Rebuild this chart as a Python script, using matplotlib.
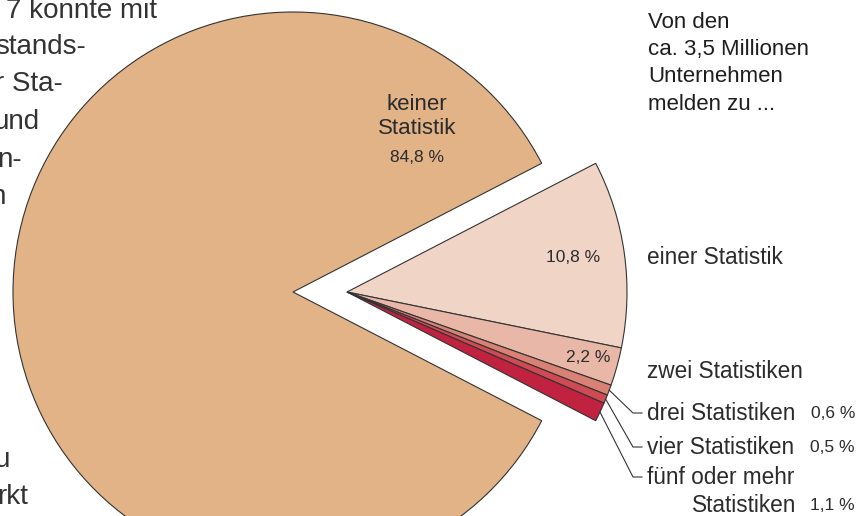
import numpy as np
import matplotlib
matplotlib.use("Agg")
import matplotlib.pyplot as plt

# share of companies by number of statistics they report to (percent)
categories = ["keiner Statistik", "einer Statistik", "zwei Statistiken",
              "drei Statistiken", "vier Statistiken", "fünf oder mehr Statistiken"]
shares = [84.8, 10.8, 2.2, 0.6, 0.5, 1.1]
share_labels = ["84,8 %", "10,8 %", "2,2 %", "0,6 %", "0,5 %", "1,1 %"]
colors = ["#E2B387", "#F0D4C6", "#E8B7A7", "#D98174", "#CF4A52", "#C0223F"]

intro_lines = ["Von den", "ca. 3,5 Millionen", "Unternehmen", "melden zu ..."]
# fragments of the body text that is cut off at the left edge
body_fragments = [("7 konnte mit", 157, 11), ("stands-", 86, 47), ("r Sta-", 63, 84),
                  ("und", 39, 122), ("n-", 22, 160), ("h", 5, 197),
                  ("u", 10, 460), ("rkt", 28, 497)]

plt.rcParams['font.family'] = ['Liberation Sans', 'DejaVu Sans']
TXT = '#2b2b2b'

fig = plt.figure(figsize=(8.58, 5.16), dpi=100)
ax = fig.add_axes([0, 0, 1, 1])

# body text sits behind the pie
for s, xr, yc in body_fragments:
    ax.text(xr, yc, s, ha='right', va='center', fontsize=20, color='#333333', zorder=0)

# pixel-like data coords, y downwards -> counterclock in data is clockwise on screen
cx, cy, r = 347, 292, 280
gap = 360 * (100 - shares[0]) / 100
wedges, _ = ax.pie(shares, colors=colors, startangle=gap / 2, counterclock=True,
                   center=(cx, cy), radius=r, explode=[54, 0, 0, 0, 0, 0],
                   wedgeprops=dict(edgecolor='#333333', linewidth=0.8),
                   frame=True)
ax.set_xlim(0, 858)
ax.set_ylim(516, 0)
ax.set_aspect('equal', adjustable='box')
ax.axis('off')

# big wedge label
ax.text(417, 104, "keiner", ha='center', va='center', fontsize=16, color=TXT)
ax.text(417, 128, "Statistik", ha='center', va='center', fontsize=16, color=TXT)
ax.text(417, 157, share_labels[0], ha='center', va='center', fontsize=12.5, color=TXT)

# inside labels for the two bigger slices
ax.text(573, 258, share_labels[1], ha='center', va='center', fontsize=12.5, color=TXT)
ax.text(588, 357, share_labels[2], ha='center', va='center', fontsize=12.5, color=TXT)

# outside labels
ax.text(647, 258, categories[1], ha='left', va='center', fontsize=16.3, color=TXT)
ax.text(647, 372, categories[2], ha='left', va='center', fontsize=16.3, color=TXT)

small_y = [413, 447, 477]
for i, yl in zip(range(3, 6), small_y):
    w = wedges[i]
    mid = np.deg2rad((w.theta1 + w.theta2) / 2)
    x0 = cx + r * np.cos(mid)
    y0 = cy + r * np.sin(mid)
    ax.plot([x0, 633, 642], [y0, yl, yl], color='#333333', lw=0.8)

ax.text(647, 413, categories[3], ha='left', va='center', fontsize=16.3, color=TXT)
ax.text(855, 413, share_labels[3], ha='right', va='center', fontsize=12.5, color=TXT)
ax.text(647, 447, categories[4], ha='left', va='center', fontsize=16.3, color=TXT)
ax.text(855, 447, share_labels[4], ha='right', va='center', fontsize=12.5, color=TXT)
ax.text(647, 477, "fünf oder mehr", ha='left', va='center', fontsize=16.3, color=TXT)
ax.text(796, 505, "Statistiken", ha='right', va='center', fontsize=16.3, color=TXT)
ax.text(855, 505, share_labels[5], ha='right', va='center', fontsize=12.5, color=TXT)

for k, line in enumerate(intro_lines):
    ax.text(648, 22 + 27.4 * k, line, ha='left', va='center', fontsize=16, color='#1e1e1e')

fig.savefig('out.png', dpi=100, facecolor='white')
